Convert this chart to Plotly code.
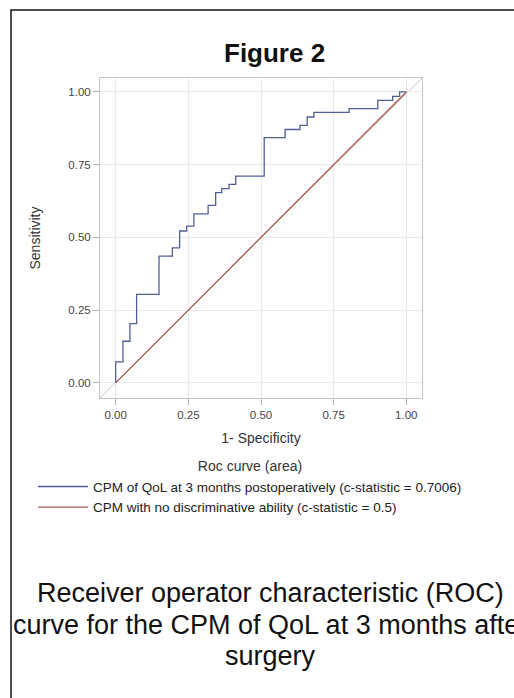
import plotly.graph_objects as go

# ROC curve corner points (step curve, 'vh' shape): 1 - specificity, sensitivity
fpr = [0.0, 0.025, 0.049, 0.072, 0.149, 0.195, 0.220, 0.244, 0.269, 0.318, 0.344,
       0.365, 0.390, 0.413, 0.511, 0.583, 0.634, 0.659, 0.682, 0.803, 0.902,
       0.953, 0.977, 1.0]
tpr = [0.0, 0.072, 0.143, 0.204, 0.304, 0.436, 0.464, 0.522, 0.539, 0.581, 0.610,
       0.654, 0.668, 0.682, 0.711, 0.843, 0.871, 0.885, 0.914, 0.930, 0.943,
       0.971, 0.985, 1.0]
ref_x = [0.0, 1.0]
ref_y = [0.0, 1.0]
tick_vals = [0.0, 0.25, 0.5, 0.75, 1.0]
tick_text = ["0.00", "0.25", "0.50", "0.75", "1.00"]
series_names = ["CPM of QoL at 3 months postoperatively (c-statistic = 0.7006)",
                "CPM with no discriminative ability (c-statistic = 0.5)"]
caption_lines = ["Receiver operator characteristic (ROC)",
                 "curve for the CPM of QoL at 3 months after",
                 "surgery"]

FONT = "Arial, Liberation Sans, sans-serif"
W, H = 514, 698
L, R, T, B = 100, 92, 78, 300
PW, PH = W - L - R, H - T - B


def px_x(p):
    return (p - L) / PW


def px_y(p):
    return (H - B - p) / PH


fig = go.Figure()
fig.add_trace(go.Scatter(x=fpr, y=tpr, mode="lines", line_shape="vh",
                         line=dict(color="#4f5f96", width=1.3),
                         name=series_names[0]))
fig.add_trace(go.Scatter(x=ref_x, y=ref_y, mode="lines",
                         line=dict(color="#aa5550", width=1.3),
                         name=series_names[1]))

axis_common = dict(tickvals=tick_vals, ticktext=tick_text,
                   ticks="outside", ticklen=6, tickcolor="#b0b0b0",
                   showline=True, linecolor="#c4c4c4", linewidth=1, mirror=True,
                   showgrid=True, gridcolor="#e9e9e9", gridwidth=1,
                   zeroline=False,
                   tickfont=dict(family=FONT, size=11.5, color="#444444"))

fig.update_xaxes(**axis_common, range=[-0.054, 1.054],
                 title=dict(text="1- Specificity",
                            font=dict(family=FONT, size=14, color="#333333"),
                            standoff=13))
fig.update_yaxes(**axis_common, range=[-0.052, 1.048],
                 title=dict(text="Sensitivity",
                            font=dict(family=FONT, size=14, color="#333333"),
                            standoff=24))

# full-frame light gray diagonal
fig.add_shape(type="line", xref="x domain", yref="y domain", x0=0, y0=0, x1=1, y1=1,
              line=dict(color="#c8c8c8", width=1), layer="below")

# outer figure border
fig.add_shape(type="rect", xref="paper", yref="paper",
              x0=px_x(11), x1=px_x(560), y0=px_y(760), y1=px_y(10),
              line=dict(color="#111111", width=1.5), fillcolor="rgba(0,0,0,0)")

# title
fig.add_annotation(text="<b>Figure 2</b>", xref="paper", yref="paper",
                   x=px_x(274), y=px_y(53), xanchor="center", yanchor="middle",
                   showarrow=False, font=dict(family=FONT, size=26, color="#111111"))

# caption
cap_y = [593, 625, 656]
for line, yy in zip(caption_lines, cap_y):
    fig.add_annotation(text=line, xref="paper", yref="paper",
                       x=px_x(270), y=px_y(yy), xanchor="center", yanchor="middle",
                       showarrow=False, font=dict(family=FONT, size=27, color="#111111"))

fig.update_layout(
    width=W, height=H,
    margin=dict(l=L, r=R, t=T, b=B, pad=0),
    paper_bgcolor="white", plot_bgcolor="white",
    font=dict(family=FONT, color="#333333"),
    showlegend=True,
    legend=dict(x=px_x(33), y=px_y(453), xanchor="left", yanchor="top",
                orientation="v", bgcolor="rgba(0,0,0,0)",
                font=dict(family=FONT, size=13.5, color="#222222"),
                title=dict(text="Roc curve (area)", side="top center",
                           font=dict(family=FONT, size=14, color="#333333")),
                itemwidth=50, tracegroupgap=0),
)

fig.write_html("out.html",
               config={"displayModeBar": False},
               post_script="document.body.style.margin='0';document.body.style.overflow='hidden';")
